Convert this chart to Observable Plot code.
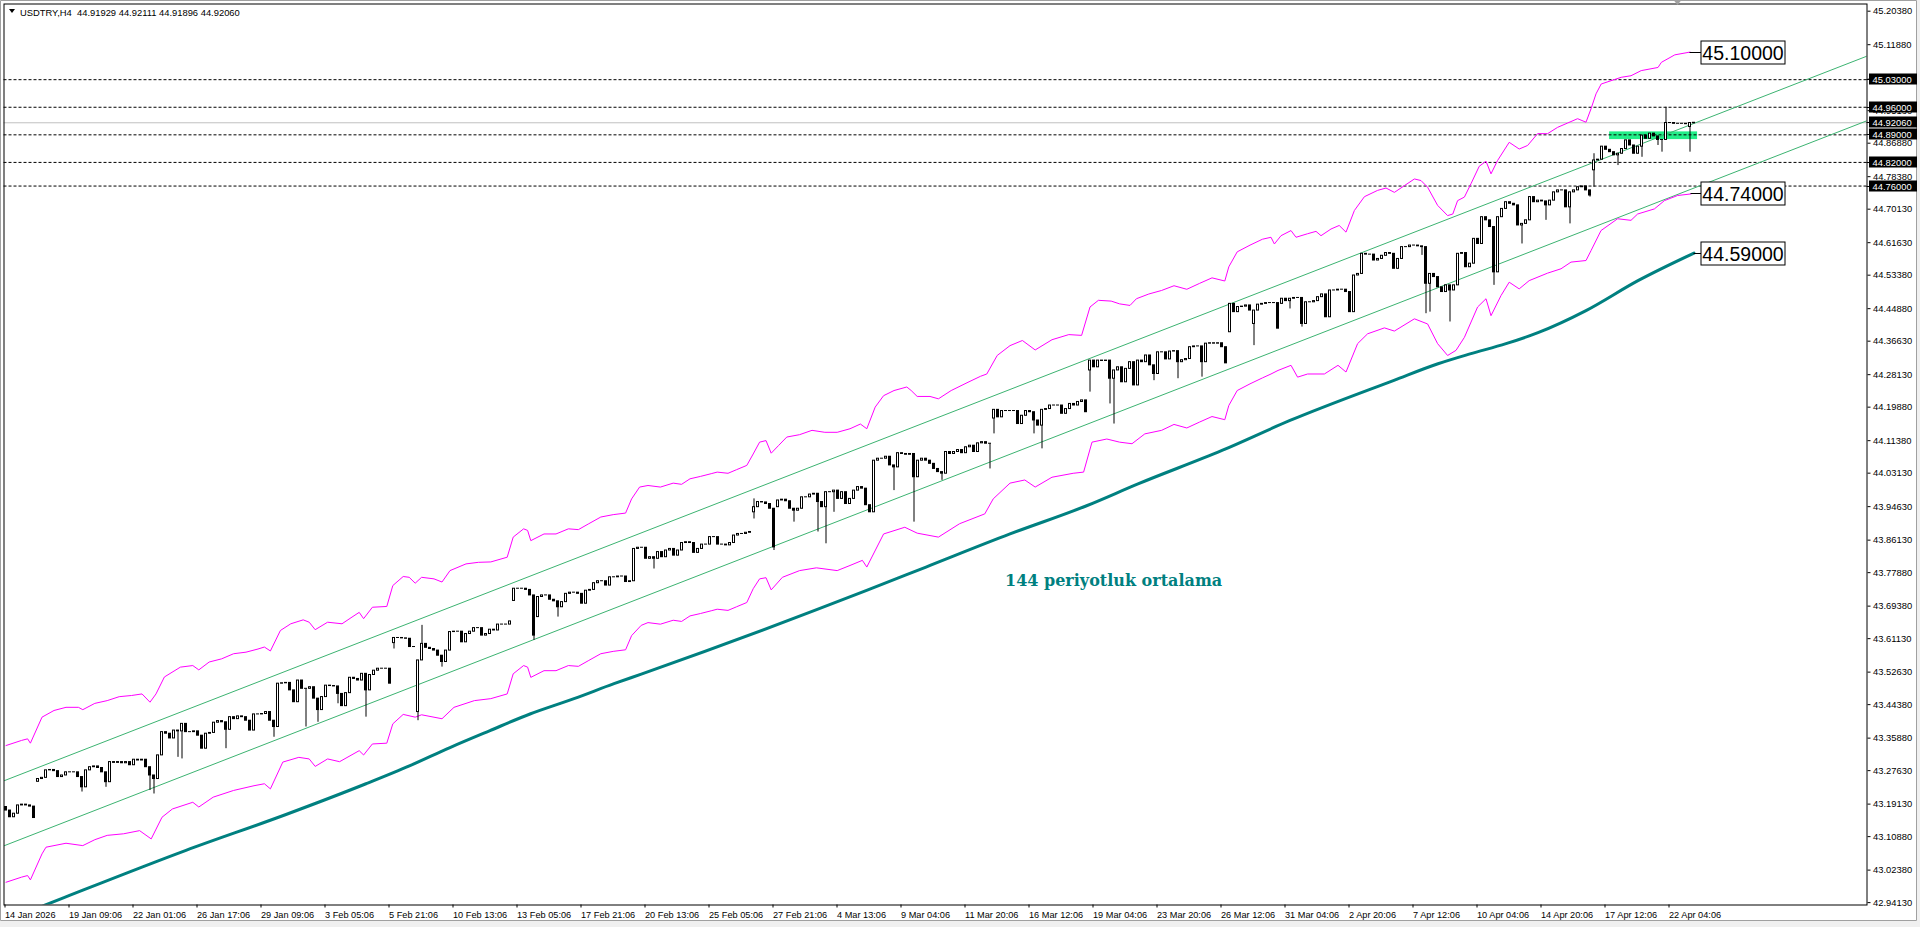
<!DOCTYPE html>
<html><head><meta charset="utf-8">
<script src="https://cdn.jsdelivr.net/npm/d3@7"></script>
<script src="https://cdn.jsdelivr.net/npm/@observablehq/plot@0.6"></script>
<style>
html,body{margin:0;padding:0;background:#ffffff;}
#chart{position:absolute;left:0;top:0;width:1920px;height:927px;}
</style></head><body><div id="chart"></div>
<script>
// ---- data ----
const closes = [
43.175,43.158,43.167,43.188,43.190,43.188,43.185,43.156,
43.255,43.258,43.277,43.278,43.275,43.260,43.264,43.272,
43.272,43.272,43.260,43.234,43.277,43.285,43.287,43.283,
43.272,43.247,43.298,43.296,43.298,43.295,43.298,43.290,
43.304,43.302,43.304,43.285,43.264,43.255,43.315,43.374,
43.370,43.358,43.378,43.376,43.395,43.374,43.374,43.376,
43.365,43.332,43.370,43.372,43.398,43.402,43.399,43.380,
43.412,43.407,43.414,43.412,43.403,43.378,43.419,43.419,
43.420,43.425,43.403,43.387,43.497,43.498,43.499,43.480,
43.450,43.505,43.484,43.484,43.488,43.459,43.430,43.463,
43.492,43.491,43.490,43.471,43.440,43.473,43.512,43.509,
43.505,43.522,43.480,43.519,43.530,43.535,43.535,43.535,
43.497,43.613,43.613,43.612,43.611,43.590,43.590,43.556,
43.598,43.588,43.585,43.581,43.568,43.552,43.581,43.628,
43.629,43.629,43.602,43.623,43.629,43.638,43.638,43.619,
43.623,43.634,43.632,43.647,43.647,43.647,43.655,43.738,
43.738,43.738,43.735,43.721,43.619,43.717,43.721,43.721,
43.710,43.706,43.691,43.704,43.725,43.728,43.728,43.725,
43.700,43.733,43.735,43.752,43.757,43.757,43.746,43.767,
43.767,43.769,43.769,43.755,43.757,43.839,43.842,43.842,
43.814,43.818,43.814,43.831,43.818,43.835,43.839,43.822,
43.835,43.854,43.856,43.854,43.829,43.839,43.850,43.850,
43.869,43.869,43.850,43.850,43.848,43.854,43.873,43.877,
43.877,43.880,43.882,43.945,43.958,43.957,43.953,43.941,
43.843,43.962,43.964,43.960,43.941,43.936,43.941,43.970,
43.970,43.977,43.979,43.958,43.945,43.983,43.983,43.987,
43.966,43.983,43.953,43.966,43.987,43.996,43.992,43.950,
43.932,44.063,44.068,44.068,44.073,44.051,44.046,44.082,
44.080,44.078,44.080,44.021,44.063,44.068,44.063,44.055,
44.042,44.034,44.030,44.085,44.080,44.085,44.090,44.082,
44.097,44.101,44.085,44.107,44.110,44.106,44.106,44.192,
44.173,44.189,44.189,44.189,44.189,44.156,44.177,44.189,
44.186,44.165,44.152,44.192,44.194,44.203,44.203,44.203,
44.182,44.194,44.207,44.203,44.212,44.216,44.186,44.317,
44.300,44.317,44.316,44.317,44.271,44.292,44.300,44.262,
44.296,44.313,44.254,44.317,44.313,44.330,44.305,44.283,
44.338,44.338,44.320,44.340,44.341,44.313,44.318,44.321,
44.351,44.353,44.353,44.313,44.360,44.361,44.360,44.361,
44.351,44.310,44.461,44.440,44.453,44.454,44.457,44.444,
44.444,44.459,44.461,44.463,44.463,44.463,44.398,44.474,
44.468,44.474,44.476,44.476,44.410,44.465,44.465,44.468,
44.478,44.485,44.427,44.495,44.495,44.497,44.497,44.491,
44.440,44.533,44.537,44.588,44.586,44.586,44.571,44.575,
44.583,44.590,44.588,44.550,44.575,44.605,44.605,44.609,
44.609,44.607,44.605,44.512,44.537,44.529,44.503,44.491,
44.508,44.495,44.508,44.588,44.590,44.554,44.563,44.626,
44.613,44.681,44.673,44.656,44.541,44.681,44.702,44.719,
44.715,44.711,44.660,44.664,44.673,44.732,44.719,44.723,
44.721,44.711,44.723,44.744,44.749,44.749,44.706,44.744,
44.749,44.757,44.759,44.749,44.736,44.825,44.827,44.860,
44.852,44.846,44.838,44.842,44.854,44.876,44.863,44.842,
44.860,44.888,44.880,44.893,44.886,44.877,44.877,44.920,
44.920,44.918,44.918,44.918,44.917,44.920,44.9206
];
// bars whose open differs from the previous close (gaps, long bodies)
const opens = [[0,43.184],[8,43.248],[97,43.600],[103,43.425],[127,43.707],[133,43.666],
  [187,43.932],[193,43.945],[247,44.170],[271,44.292],[306,44.389],[312,44.410],
  [319,44.461],[397,44.800],[421,44.910],[422,44.91929]];
// wick extremes
const highs = [[104,43.645],[187,43.966],[397,44.842],[415,44.960],[422,44.92111]];
const lows = [[19,43.222],[25,43.234],[36,43.226],[37,43.217],[43,43.310],[44,43.306],[55,43.332],
  [67,43.361],[75,43.387],[78,43.399],[83,43.446],[90,43.412],[97,43.585],[103,43.403],[109,43.539],
  [132,43.607],[138,43.666],[162,43.788],[187,43.915],[192,43.835],[197,43.907],[203,43.882],
  [205,43.852],[207,43.932],[222,43.987],[227,43.907],[234,44.013],[246,44.042],[247,44.131],
  [257,44.131],[259,44.093],[271,44.237],[276,44.207],[277,44.156],[287,44.266],[293,44.271],
  [299,44.275],[312,44.355],[321,44.448],[324,44.402],[354,44.584],[355,44.436],[356,44.440],
  [361,44.415],[372,44.508],[379,44.613],[385,44.673],[391,44.664],[396,44.732],[397,44.757],
  [403,44.812],[409,44.833],[413,44.863],[414,44.846],[421,44.846],[422,44.91896]];

const upperEnvelope = [[0,43.340],[3.9,43.353],[5.4,43.357],[6.1,43.346],[9,43.412],[12,43.429],[15,43.437],
[18.1,43.437],[19.2,43.431],[22.2,43.447],[25.3,43.454],[28.3,43.464],[31.4,43.467],[34,43.471],[36,43.450],
[37.5,43.471],[39.6,43.514],[43.6,43.539],[46.7,43.543],[48.2,43.532],[50.8,43.552],[53.9,43.560],[56.9,43.573],
[60,43.577],[63,43.585],[64.6,43.590],[66.1,43.580],[68.6,43.632],[71.2,43.649],[74.3,43.659],[75.8,43.653],
[77.3,43.634],[80.4,43.653],[84,43.649],[86.5,43.666],[88.3,43.678],[89.4,43.662],[91.6,43.691],[95.2,43.693],
[96.7,43.746],[99.3,43.769],[100.8,43.767],[102.3,43.752],[103.9,43.767],[107,43.763],[109,43.755],[111,43.784],
[115,43.801],[118.1,43.805],[121.2,43.806],[125.3,43.818],[126.8,43.869],[129.4,43.890],[130.4,43.886],
[131.2,43.860],[134.5,43.877],[137.5,43.877],[140.6,43.890],[143.1,43.888],[145.7,43.903],[148.7,43.920],
[151.8,43.926],[154.9,43.930],[156.4,43.966],[158.4,43.996],[160.5,44.000],[163.6,43.996],[166.8,44.006],
[168.9,44.003],[171,44.017],[173.6,44.023],[176.3,44.030],[177.8,44.034],[180.5,44.031],[182.6,44.040],
[185.2,44.051],[186.8,44.080],[188.4,44.110],[190,44.114],[191.3,44.082],[193.1,44.101],[195.2,44.123],
[198.4,44.129],[201.5,44.140],[204.7,44.135],[207.8,44.135],[211,44.144],[213.6,44.156],[215.2,44.144],
[217.3,44.199],[219.4,44.228],[222,44.241],[225.2,44.250],[226.3,44.241],[227.8,44.226],[231,44.226],
[233.1,44.220],[236.3,44.241],[240.5,44.262],[243.6,44.277],[245.2,44.283],[247.8,44.330],[251,44.355],
[254.1,44.368],[257.3,44.344],[261.5,44.370],[265.7,44.383],[268.9,44.381],[271,44.453],[273.1,44.470],
[276.3,44.468],[278.4,44.461],[281,44.457],[282.6,44.474],[285.7,44.486],[288.9,44.495],[292,44.507],
[295.2,44.498],[298.4,44.513],[301.5,44.527],[304.7,44.519],[305.7,44.555],[307.8,44.593],[311,44.610],
[314.1,44.625],[316.25,44.630],[317.1,44.613],[318.75,44.634],[321.25,44.647],[322.5,44.630],[325.4,44.639],
[327.5,44.645],[328.75,44.634],[331.25,44.651],[333.3,44.660],[335,44.643],[337.1,44.698],[339.6,44.733],
[342.9,44.749],[345,44.755],[347.1,44.744],[349.6,44.761],[352.1,44.778],[353.75,44.774],[355.4,44.757],
[357.9,44.711],[360.4,44.685],[361.7,44.689],[362.9,44.723],[364.6,44.732],[366.25,44.766],[368.3,44.810],
[370,44.823],[371.25,44.791],[372.9,44.825],[375.8,44.871],[378.3,44.854],[380.4,44.863],[382.9,44.893],
[385.4,44.893],[387.9,44.909],[390.4,44.920],[392.9,44.931],[395,44.922],[396.25,44.956],[397.5,44.994],
[398.8,45.019],[403.8,45.036],[406.25,45.040],[408.8,45.053],[413,45.061],[413.85,45.074],[417.2,45.093],
[421,45.100]];

const lowerEnvelope = [[0,42.993],[3.9,43.006],[5.4,43.010],[6.1,42.999],[9,43.065],[10,43.082],[15,43.092],
[19.2,43.086],[22.2,43.101],[25.3,43.112],[29.4,43.116],[33.4,43.124],[36.3,43.103],[39,43.158],[41.6,43.179],
[46.7,43.196],[48.2,43.184],[51.8,43.209],[56.9,43.226],[62,43.238],[64.6,43.243],[66.1,43.230],[69.2,43.298],
[73.2,43.310],[75.8,43.306],[77.3,43.287],[80.4,43.306],[83.4,43.299],[88.3,43.327],[89.4,43.316],[91.6,43.344],
[95.2,43.346],[96.7,43.395],[99.3,43.419],[102.3,43.412],[103.9,43.418],[109,43.408],[112,43.437],[117.1,43.454],
[121.2,43.459],[125.3,43.471],[126.8,43.522],[129.4,43.543],[130.4,43.539],[131.2,43.513],[134.5,43.530],
[137.5,43.530],[140.6,43.543],[143.1,43.541],[145.7,43.556],[148.7,43.573],[151.8,43.579],[154.9,43.583],
[156.4,43.619],[158.8,43.645],[160.5,43.652],[163.6,43.648],[166.8,43.658],[168.9,43.655],[171,43.669],
[173.6,43.675],[176.3,43.682],[177.8,43.686],[180.5,43.683],[182.6,43.692],[185.2,43.703],[186.8,43.738],
[188.4,43.763],[190,43.766],[191.3,43.735],[194.1,43.767],[198.4,43.784],[202.6,43.791],[207.8,43.784],
[211,43.797],[214.1,43.810],[215.2,43.793],[219.4,43.877],[224.7,43.894],[227.8,43.879],[233.1,43.869],
[238.4,43.903],[244.7,43.928],[246.8,43.966],[251,44.006],[254.7,44.014],[257.3,43.996],[261.5,44.021],
[266.8,44.031],[269.4,44.034],[271.5,44.110],[275.2,44.118],[278.4,44.110],[281.5,44.106],[284.7,44.131],
[288.9,44.140],[292,44.155],[295.2,44.146],[298.4,44.161],[301.5,44.175],[304.7,44.167],[305.7,44.203],
[307.8,44.241],[311,44.258],[314.1,44.273],[316.25,44.283],[318,44.292],[321.25,44.305],[322.9,44.275],
[325.4,44.283],[329.6,44.283],[333,44.305],[335,44.288],[337.9,44.360],[340.4,44.385],[344.6,44.400],
[347.1,44.392],[352.1,44.423],[355.4,44.410],[357.9,44.360],[360.4,44.330],[362.5,44.343],[364.6,44.376],
[367.9,44.453],[370,44.474],[371.25,44.431],[373.75,44.482],[375.8,44.516],[378.3,44.499],[380.8,44.520],
[385.4,44.539],[388.75,44.550],[391.25,44.567],[395,44.571],[396.25,44.596],[398.75,44.647],[402.9,44.677],
[406.25,44.673],[407.9,44.689],[412.1,44.702],[414.6,44.723],[417.9,44.736],[421.25,44.740]];

const ma144 = [[9,42.932],[14.5,42.954],[45,43.074],[70,43.165],[90,43.243],[101,43.289],[111,43.335],
[121,43.378],[131,43.420],[142,43.459],[152,43.497],[159,43.522],[215,43.733],[230,43.793],[251,43.877],
[270,43.948],[283,44.004],[304,44.089],[321,44.165],[347,44.267],[358,44.309],[366,44.334],[375,44.360],
[383,44.388],[395,44.444],[408,44.520],[422,44.590]];

const channelUpper = [[-0.375,43.251],[465.55,45.091]];
const channelLower = [[-0.375,43.086],[465.55,44.927]];
const levels = [45.03, 44.96, 44.89, 44.82, 44.76];
const bidPrice = 44.9206;
const axisFlags = [45.03, 44.96, 44.9206, 44.89, 44.82, 44.76];
const yTicks = [45.2038,45.1188,45.0313,44.9513,44.8688,44.7838,44.7013,44.6163,44.5338,44.4488,44.3663,
  44.2813,44.1988,44.1138,44.0313,43.9463,43.8613,43.7788,43.6938,43.6113,43.5263,43.4438,43.3588,
  43.2763,43.1913,43.1088,43.0238,42.9413];
const xTickBars = [0,16,32,48,64,80,96,112,128,144,160,176,192,208,224,240,256,272,288,304,320,336,352,368,384,400,416];
const xTickLabels = ["14 Jan 2026","19 Jan 09:06","22 Jan 01:06","26 Jan 17:06","29 Jan 09:06","3 Feb 05:06",
  "5 Feb 21:06","10 Feb 13:06","13 Feb 05:06","17 Feb 21:06","20 Feb 13:06","25 Feb 05:06","27 Feb 21:06",
  "4 Mar 13:06","9 Mar 04:06","11 Mar 20:06","16 Mar 12:06","19 Mar 04:06","23 Mar 20:06","26 Mar 12:06",
  "31 Mar 04:06","2 Apr 20:06","7 Apr 12:06","10 Apr 04:06","14 Apr 20:06","17 Apr 12:06","22 Apr 04:06"];
const rightLabels = [{bar:421, value:45.10, text:"45.10000"},{bar:421.25, value:44.74, text:"44.74000"},{bar:422, value:44.59, text:"44.59000"}];
const zone = [{bar1:400.9, bar2:422.9, low:44.8779, high:44.8975}];
const maNote = [{bar:276.9, value:43.759, text:"144 periyotluk ortalama"}];
const titleText = "USDTRY,H4  44.91929 44.92111 44.91896 44.92060";
const shiftMarkerBar = 418;

// ---- build candles ----
const openMap = new Map(opens), highMap = new Map(highs), lowMap = new Map(lows);
const candles = closes.map((c, i) => {
  const o = openMap.has(i) ? openMap.get(i) : (i > 0 ? closes[i - 1] : c);
  const h = highMap.has(i) ? highMap.get(i) : Math.max(o, c);
  const l = lowMap.has(i) ? lowMap.get(i) : Math.min(o, c);
  return {i, o, h, l, c};
});
const bulls = candles.filter(d => d.c > d.o);

const chart = Plot.plot({
  width: 1920, height: 927,
  marginLeft: 3.5, marginRight: 53.5, marginTop: 3.5, marginBottom: 22.5,
  x: {type: "linear", domain: [-0.5, 465.25], axis: null},
  y: {type: "linear", domain: [42.93527, 45.22207], axis: null},
  style: {fontFamily: "'Liberation Sans', Arial, sans-serif", fontSize: "9.4px", background: "white", color: "black", overflow: "visible"},
  marks: [
    Plot.rect(zone, {x1: "bar1", x2: "bar2", y1: "low", y2: "high", fill: "#22ee88"}),
    Plot.ruleY(levels, {y: d => d, stroke: "black", strokeDasharray: "3,2"}),
    Plot.ruleY([bidPrice], {y: d => d, stroke: "#c0c0c0"}),
    Plot.line(channelUpper, {x: d => d[0], y: d => d[1], stroke: "#3cb371", strokeWidth: 1, clip: true}),
    Plot.line(channelLower, {x: d => d[0], y: d => d[1], stroke: "#3cb371", strokeWidth: 1, clip: true}),
    Plot.line(upperEnvelope, {x: d => d[0], y: d => d[1], stroke: "#ff00ff", strokeWidth: 1, clip: true}),
    Plot.line(lowerEnvelope, {x: d => d[0], y: d => d[1], stroke: "#ff00ff", strokeWidth: 1, clip: true}),
    Plot.line(ma144, {x: d => d[0], y: d => d[1], stroke: "#008080", strokeWidth: 3, curve: "monotone-x", clip: true}),
    Plot.ruleX(candles, {x: "i", y1: "l", y2: "h", stroke: "black", strokeWidth: 1}),
    Plot.rect(candles, {x1: d => d.i - 0.25, x2: d => d.i + 0.25, y1: "o", y2: "c", fill: "black",
      insetLeft: -0.5, insetRight: -0.5, insetTop: -0.5, insetBottom: -0.5}),
    Plot.rect(bulls, {x1: d => d.i - 0.125, x2: d => d.i + 0.125, y1: "o", y2: "c", fill: "white",
      insetTop: 0.5, insetBottom: 0.5}),
    Plot.text(maNote, {x: "bar", y: "value", text: "text", fill: "#008080", fontSize: 16, fontWeight: "bold",
      fontFamily: "'DejaVu Serif', serif", textAnchor: "middle"}),
    Plot.frame({stroke: "black"}),
    Plot.axisY(yTicks, {anchor: "right", tickSize: 3, tickPadding: 3, tickFormat: d => d.toFixed(5), textAnchor: "start", fill: "black", stroke: "black"}),
    Plot.axisX(xTickBars, {anchor: "bottom", tickSize: 3, tickPadding: 3, tickFormat: (d, k) => xTickLabels[k], textAnchor: "start", dx: -1, fill: "black", stroke: "black", fontSize: 9.2})
  ]
});
document.getElementById("chart").appendChild(chart);

// ---- annotations drawn through the plot's own scales ----
const xs = chart.scale("x"), ys = chart.scale("y");
const svg = d3.select(chart);
const W = 1920, H = 927;
const rightEdge = xs.apply(465.25);
const g = svg.append("g").attr("text-anchor", "start");
// window border (light grey strips around the chart window)
g.append("rect").attr("x", W - 3).attr("y", 0).attr("width", 3).attr("height", H).attr("fill", "#f0f0f0");
g.append("rect").attr("x", 0).attr("y", H - 6).attr("width", W).attr("height", 6).attr("fill", "#f0f0f0");
g.append("path").attr("d", `M0.5,${H - 6.5} V0.5 H${W - 3.5} V${H - 6.5} Z`).attr("fill", "none").attr("stroke", "#a0a0a0");
// black price flags on the axis
for (const v of axisFlags) {
  const y = Math.round(ys.apply(v)) + 0.5;
  g.append("line").attr("x1", rightEdge).attr("x2", rightEdge + 3).attr("y1", y).attr("y2", y).attr("stroke", "black");
  g.append("rect").attr("x", rightEdge + 2.5).attr("y", y - 6).attr("width", 48).attr("height", 11).attr("fill", "black");
  g.append("text").attr("x", rightEdge + 6).attr("y", y).attr("dy", "0.35em").attr("fill", "white")
    .attr("text-anchor", "start").attr("font-size", "9.4px").text(v.toFixed(5));
}
// big boxed labels at the ends of the lines
const boxLeft = xs.apply(422) + 7.5;
for (const d of rightLabels) {
  const y = Math.round(ys.apply(d.value)) + 0.5;
  g.append("line").attr("x1", xs.apply(d.bar)).attr("x2", boxLeft).attr("y1", y).attr("y2", y).attr("stroke", "black");
  g.append("rect").attr("x", boxLeft).attr("y", y - 11.5).attr("width", 84).attr("height", 23)
    .attr("fill", "white").attr("stroke", "black");
  g.append("text").attr("x", boxLeft + 42).attr("y", y).attr("dy", "0.36em").attr("text-anchor", "middle")
    .attr("font-size", "19.5px").attr("fill", "black").text(d.text);
}
// shift marker at the top
const sx = xs.apply(shiftMarkerBar);
g.append("path").attr("d", `M${sx - 4},0 L${sx + 4},0 L${sx},5 Z`).attr("fill", "#a0a0a0");
// title
g.append("path").attr("d", "M9,9 L15,9 L12,13 Z").attr("fill", "black");
g.append("text").attr("x", 20).attr("y", 16).attr("text-anchor", "start").attr("font-size", "9.4px").attr("fill", "black")
  .style("white-space", "pre").text(titleText);
</script>
</body></html>
